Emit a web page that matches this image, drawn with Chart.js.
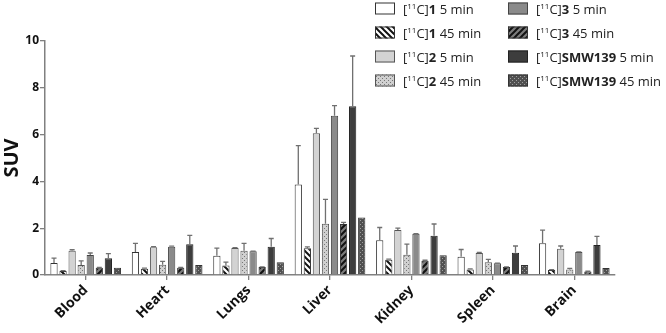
<!DOCTYPE html>
<html>
<head>
<meta charset="utf-8">
<script src="https://cdn.jsdelivr.net/npm/chart.js@4/dist/chart.umd.min.js"></script>
<style>
html,body{margin:0;padding:0;background:#fff;}
#wrap{width:666px;height:333px;position:relative;}
</style>
</head>
<body>
<div id="wrap"><canvas id="c" width="666" height="333"></canvas></div>
<script>
// ---- data ----
const categories = ['Blood','Heart','Lungs','Liver','Kidney','Spleen','Brain'];
const compounds = ['1','1','2','2','3','3','SMW139','SMW139'];
const times = ['5 min','45 min','5 min','45 min','5 min','45 min','5 min','45 min'];

const c1_5      = [0.51,0.98,0.82,3.87,1.48,0.78,1.36];
const c1_5_err  = [0.21,0.37,0.33,1.66,0.55,0.31,0.56];
const c1_45     = [0.17,0.27,0.41,1.14,0.65,0.24,0.21];
const c1_45_err = [0.02,0.02,0.14,0.06,0.03,0.02,0.02];
const c2_5      = [1.04,1.19,1.15,6.06,1.92,0.94,1.12];
const c2_5_err  = [0.04,0.02,0.02,0.21,0.08,0.03,0.12];
const c2_45     = [0.43,0.44,1.04,2.19,0.87,0.55,0.24];
const c2_45_err = [0.17,0.14,0.31,1.04,0.45,0.12,0.04];
const c3_5      = [0.85,1.21,1.01,6.81,1.76,0.50,0.98];
const c3_5_err  = [0.09,0.02,0.01,0.43,0.01,0.01,0.01];
const c3_45     = [0.31,0.31,0.34,2.18,0.61,0.34,0.15];
const c3_45_err = [0.01,0.01,0.01,0.07,0.02,0.01,0.01];
const smw_5     = [0.72,1.31,1.21,7.21,1.68,0.95,1.28];
const smw_5_err = [0.19,0.38,0.35,2.15,0.50,0.29,0.37];
const smw_45    = [0.31,0.43,0.55,2.46,0.84,0.43,0.30];
const smw_45_err= [0,0,0,0,0,0,0];

const yTicks = [0,2,4,6,8,10];

const seriesValues = [c1_5,c1_45,c2_5,c2_45,c3_5,c3_45,smw_5,smw_45];
const seriesErrors = [c1_5_err,c1_45_err,c2_5_err,c2_45_err,c3_5_err,c3_45_err,smw_5_err,smw_45_err];

// ---- patterns ----
function hatch(bg, fg, dir, size, lw){
  const c=document.createElement('canvas'); c.width=c.height=size;
  const x=c.getContext('2d'); x.fillStyle=bg; x.fillRect(0,0,size,size);
  x.strokeStyle=fg; x.lineWidth=lw; x.beginPath();
  if(dir>0){
    x.moveTo(0,size); x.lineTo(size,0);
    x.moveTo(-size,size); x.lineTo(0,0);
    x.moveTo(size,size); x.lineTo(2*size,0);
    x.moveTo(-1,1); x.lineTo(1,-1);
    x.moveTo(size-1,size+1); x.lineTo(size+1,size-1);
  } else {
    x.moveTo(0,0); x.lineTo(size,size);
    x.moveTo(-size,0); x.lineTo(0,size);
    x.moveTo(size,0); x.lineTo(2*size,size);
    x.moveTo(-1,size-1); x.lineTo(1,size+1);
    x.moveTo(size-1,-1); x.lineTo(size+1,1);
  }
  x.stroke();
  return x.createPattern(c,'repeat');
}
function dots(bg, fg, size){
  const c=document.createElement('canvas'); c.width=c.height=size;
  const x=c.getContext('2d'); x.fillStyle=bg; x.fillRect(0,0,size,size);
  x.fillStyle=fg;
  x.fillRect(0,0,1,1);
  x.fillRect(size/2,size/2,1,1);
  return x.createPattern(c,'repeat');
}
const fills = [
  '#ffffff',
  hatch('#ffffff','#111111',-1,6,2),
  '#d3d3d3',
  dots('#d0d0d0','#777777',4),
  '#8a8a8a',
  hatch('#7c7c7c','#111111',1,6,2),
  '#3d3d3d',
  dots('#505050','#a0a0a0',4)
];
const borders = ['#333','#333','#555','#555','#444','#333','#222','#333'];

const datasets = seriesValues.map((v,i)=>({
  label: '[11C]'+compounds[i]+' '+times[i],
  data: v,
  backgroundColor: fills[i],
  borderColor: borders[i],
  borderWidth: 1,
  errors: seriesErrors[i]
}));

const FONT = '"Open Sans", "Liberation Sans", sans-serif';

const errorBars = {
  id:'errorBars',
  afterDatasetsDraw(chart){
    const ctx=chart.ctx, ys=chart.scales.y;
    ctx.save(); ctx.strokeStyle='#707070'; ctx.lineWidth=1.3;
    chart.data.datasets.forEach((ds,i)=>{
      const meta=chart.getDatasetMeta(i);
      meta.data.forEach((bar,j)=>{
        const e=ds.errors[j]; if(!e) return;
        const yt=ys.getPixelForValue(ds.data[j]+e);
        ctx.beginPath();
        ctx.moveTo(bar.x,bar.y); ctx.lineTo(bar.x,yt);
        ctx.moveTo(bar.x-2.5,yt); ctx.lineTo(bar.x+2.5,yt);
        ctx.stroke();
      });
    });
    ctx.restore();
  }
};

const customLegend = {
  id:'customLegend',
  afterDraw(chart){
    const ctx=chart.ctx;
    ctx.save();
    const colX=[375,508], rowY=[2.5,26.5,50.5,74.5];
    chart.data.datasets.forEach((ds,i)=>{
      const col=i<4?0:1, row=i%4;
      const bx=colX[col], by=rowY[row];
      ctx.fillStyle=ds.backgroundColor; ctx.fillRect(bx,by,20,12);
      ctx.strokeStyle=ds.borderColor; ctx.lineWidth=1; ctx.strokeRect(bx+0.5,by+0.5,19,11);
      let tx=bx+28; const ty=by+11.5;
      ctx.fillStyle='#222'; ctx.textBaseline='alphabetic'; ctx.textAlign='left';
      const parts=[['[','n'],['11','s'],['C]','n'],[compounds[i],'b'],[' '+times[i],'n']];
      parts.forEach(([t,k])=>{
        if(k==='s'){ctx.font='8px '+FONT; ctx.fillText(t,tx,ty-5.5);}
        else if(k==='b'){ctx.font='bold 13px '+FONT; ctx.fillText(t,tx,ty);}
        else {ctx.font='13px '+FONT; ctx.fillText(t,tx,ty);}
        tx+=ctx.measureText(t).width;
      });
    });
    ctx.restore();
  }
};

new Chart(document.getElementById('c'),{
  type:'bar',
  data:{labels:categories, datasets},
  plugins:[errorBars,customLegend],
  options:{
    responsive:false, animation:false,
    layout:{padding:{top:41,right:51,left:0,bottom:0}},
    plugins:{legend:{display:false}, tooltip:{enabled:false}},
    datasets:{bar:{categoryPercentage:0.89,barPercentage:0.8}},
    scales:{
      x:{
        grid:{display:true,drawOnChartArea:false,offset:false,tickLength:5,color:'#808080',lineWidth:1.3},
        border:{color:'#808080',width:1.5},
        ticks:{color:'#111',font:{family:FONT,size:14,weight:'bold'},maxRotation:45,minRotation:45,padding:2},
        afterFit(s){s.height=58;}
      },
      y:{
        min:0,max:10,
        afterBuildTicks(s){s.ticks=yTicks.map(v=>({value:v}));},
        grid:{display:true,drawOnChartArea:false,tickLength:5,color:'#808080',lineWidth:1.3},
        border:{color:'#808080',width:1.5},
        ticks:{color:'#111',font:{family:FONT,size:12,weight:'bold'},padding:1},
        title:{display:true,text:'SUV',color:'#111',font:{family:FONT,size:20,weight:'bold'},padding:{top:0,bottom:4}},
        afterFit(s){s.width=45;}
      }
    }
  }
});
</script>
</body>
</html>
